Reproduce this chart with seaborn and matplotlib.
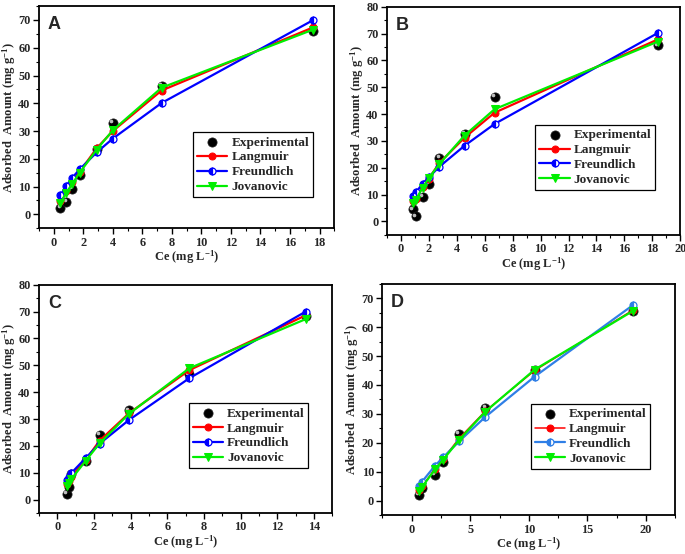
"""Isotherm fits (Langmuir / Freundlich / Jovanovic) for four adsorption runs."""
import matplotlib

matplotlib.use("Agg")
import matplotlib.pyplot as plt
import matplotlib.transforms as mtransforms
from matplotlib.ticker import MultipleLocator
import pandas as pd
import seaborn as sns

sns.set_theme(style="ticks")
plt.rcParams["font.family"] = ["Liberation Serif", "DejaVu Serif"]
plt.rcParams["font.weight"] = "bold"
plt.rcParams["axes.labelweight"] = "bold"
plt.rcParams["mathtext.fontset"] = "custom"
plt.rcParams["mathtext.rm"] = "Liberation Serif:bold"
plt.rcParams["mathtext.bf"] = "Liberation Serif:bold"
plt.rcParams["mathtext.default"] = "bf"

# ---- data ----
ce_a = [0.45, 0.85, 1.25, 1.75, 2.9, 4.0, 7.3, 17.55]
exp_a = [2.3, 4.6, 9.3, 14.2, 23.6, 33.0, 46.3, 66.2]
lang_a = [4.8, 8.5, 11.5, 15.3, 23.8, 30.0, 44.6, 67.3]
freu_a = [6.9, 10.3, 13.2, 16.2, 22.3, 27.3, 40.1, 69.9]
jov_a = [4.2, 7.8, 11.0, 15.0, 23.3, 30.3, 45.6, 66.5]

ce_b = [0.85, 1.05, 1.55, 2.0, 2.75, 4.55, 6.7, 18.4]
exp_b = [4.5, 1.9, 9.1, 13.9, 23.7, 32.7, 46.5, 65.6]
lang_b = [7.5, 8.5, 12.8, 16.0, 21.8, 31.2, 40.5, 67.8]
freu_b = [9.6, 10.8, 14.0, 16.5, 20.4, 28.2, 36.3, 70.2]
jov_b = [7.0, 8.0, 12.6, 16.2, 21.4, 32.0, 41.8, 67.0]

ce_c = [0.5, 0.62, 0.75, 1.55, 2.3, 3.9, 7.2, 13.55]
exp_c = [2.2, 4.7, 9.5, 14.2, 24.0, 33.2, 46.6, 68.2]
lang_c = [5.8, 7.0, 8.5, 14.8, 21.9, 32.1, 48.2, 68.6]
freu_c = [7.3, 8.5, 9.8, 15.5, 20.8, 29.6, 45.2, 70.0]
jov_c = [5.0, 6.3, 7.5, 14.5, 20.9, 31.9, 48.9, 67.2]

ce_d = [0.65, 0.9, 2.0, 2.7, 4.05, 6.3, 10.5, 18.85]
exp_d = [2.1, 4.4, 9.0, 13.5, 23.0, 32.0, 45.2, 65.5]
lang_d = [3.8, 5.0, 11.0, 14.5, 21.5, 31.0, 45.0, 65.8]
freu_d = [5.2, 6.6, 12.1, 15.0, 20.5, 29.0, 42.9, 67.5]
jov_d = [3.5, 4.8, 10.8, 14.2, 21.0, 30.8, 45.3, 65.5]

panels = [
    # letter, ce, exp, lang, freu, jov, xlim, ylim, x major step, x minor step
    ("A", ce_a, exp_a, lang_a, freu_a, jov_a, (-1, 19), (-5, 75), 2, 1),
    ("B", ce_b, exp_b, lang_b, freu_b, jov_b, (-1, 20), (-5, 80), 2, 1),
    ("C", ce_c, exp_c, lang_c, freu_c, jov_c, (-1, 15), (-5, 80), 2, 1),
    ("D", ce_d, exp_d, lang_d, freu_d, jov_d, (-2.5, 22.5), (-5, 75), 5, 2.5),
]

# axes boxes in figure fractions [left, bottom, width, height]
boxes = [
    [0.057, 0.588, 0.431, 0.401],
    [0.565, 0.576, 0.428, 0.412],
    [0.057, 0.074, 0.428, 0.412],
    [0.558, 0.070, 0.428, 0.418],
]
legend_anchor = [(0.928, 0.14), (0.915, 0.197), (0.919, 0.196), (0.915, 0.2)]

fig = plt.figure(figsize=(6.85, 5.54), dpi=100)

for i, (letter, ce, exp, lang, freu, jov, xlim, ylim, xmaj, xmin) in enumerate(panels):
    ax = fig.add_axes(boxes[i])
    df = pd.DataFrame({"ce": ce, "exp": exp, "lang": lang, "freu": freu, "jov": jov})

    blue = "#2f7fe6" if letter == "D" else "#0000ff"
    red_lw = 1.1 if letter == "D" else 1.6

    sns.scatterplot(data=df, x="ce", y="exp", ax=ax, color="black", s=44,
                    edgecolor="#222222", linewidth=0.5, zorder=3,
                    label="Experimental")
    # little highlight to mimic the shaded sphere markers
    shift = mtransforms.ScaledTranslation(-1.3 / 72, 1.3 / 72, fig.dpi_scale_trans)
    ax.plot(df["ce"], df["exp"], ls="none", marker="o", ms=1.6, color="#bdbdbd",
            transform=ax.transData + shift, zorder=4)

    sns.lineplot(data=df, x="ce", y="lang", ax=ax, color="#ff0000", lw=red_lw,
                 marker="o", ms=5, markeredgecolor="#ff0000", sort=False,
                 label="Langmuir", zorder=4)
    sns.lineplot(data=df, x="ce", y="freu", ax=ax, color=blue, lw=1.6,
                 marker="o", ms=5, fillstyle="left", markerfacecoloralt="white",
                 markeredgecolor=blue, markeredgewidth=0.9, sort=False,
                 label="Freundlich", zorder=5)
    sns.lineplot(data=df, x="ce", y="jov", ax=ax, color="#00ee00", lw=1.6,
                 marker="v", ms=5.5, markeredgecolor="#00ee00", sort=False,
                 label="Jovanovic", zorder=6)

    ax.set_xlim(*xlim)
    ax.set_ylim(*ylim)
    ax.xaxis.set_major_locator(MultipleLocator(xmaj))
    ax.xaxis.set_minor_locator(MultipleLocator(xmin))
    ax.yaxis.set_major_locator(MultipleLocator(10))
    ax.yaxis.set_minor_locator(MultipleLocator(5))
    ax.tick_params(which="major", direction="out", length=4, width=1,
                   labelsize=8.8, pad=2, color="black")
    ax.tick_params(which="minor", direction="out", length=2, width=0.8,
                   color="black")
    for lab in ax.get_xticklabels() + ax.get_yticklabels():
        lab.set_fontweight("bold")
    for sp in ax.spines.values():
        sp.set_visible(True)
        sp.set_linewidth(1.3)
        sp.set_color("black")

    ax.set_xlabel(r"Ce (mg $\mathbf{L^{-1}}$)", fontsize=9, labelpad=0)
    ax.set_ylabel(r"Adsorbed  Amount (mg $\mathbf{g^{-1}}$)", fontsize=9)
    ax.yaxis.set_label_coords(-0.072, 0.5)

    ax.text(0.03, 0.955, letter, transform=ax.transAxes, ha="left", va="top",
            fontsize=13, fontweight="bold", family="Liberation Sans")

    leg = ax.legend(loc="lower right", bbox_to_anchor=legend_anchor[i],
                    frameon=True, fancybox=False, framealpha=1,
                    edgecolor="black", fontsize=9.5, handlelength=2.3,
                    handletextpad=0.3, labelspacing=0.2, borderpad=0.3,
                    borderaxespad=0)
    leg.get_frame().set_linewidth(0.9)
    for t in leg.get_texts():
        t.set_fontweight("bold")

fig.savefig("out.png", dpi=100)
